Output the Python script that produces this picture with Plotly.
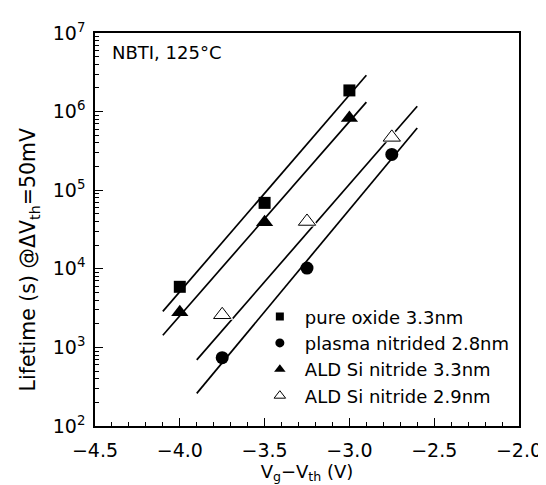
import plotly.graph_objects as go

# ---- data ----
names = ["pure oxide 3.3nm", "plasma nitrided 2.8nm",
         "ALD Si nitride 3.3nm", "ALD Si nitride 2.9nm"]

x_sq = [-4.0, -3.5, -3.0]
y_sq = [5.9e3, 6.9e4, 1.86e6]
x_ci = [-3.75, -3.25, -2.75]
y_ci = [7.4e2, 1.02e4, 2.85e5]
x_tf = [-4.0, -3.5, -3.0]
y_tf = [2.8e3, 3.9e4, 8.3e5]
x_to = [-3.75, -3.25, -2.75]
y_to = [2.6e3, 4.0e4, 4.7e5]

# fitted lines (end points)
fit_x_sq = [-4.10, -2.90]
fit_y_sq = [2.87e3, 2.9e6]
fit_x_tf = [-4.10, -2.90]
fit_y_tf = [1.43e3, 1.32e6]
fit_x_to = [-3.90, -2.60]
fit_y_to = [6.95e2, 1.17e6]
fit_x_ci = [-3.90, -2.60]
fit_y_ci = [2.6e2, 6.2e5]

y_tickvals = [1e2, 1e3, 1e4, 1e5, 1e6, 1e7]
y_ticktext = ["10<sup>2</sup>", "10<sup>3</sup>", "10<sup>4</sup>",
              "10<sup>5</sup>", "10<sup>6</sup>", "10<sup>7</sup>"]
x_tickvals = [-4.5, -4.0, -3.5, -3.0, -2.5, -2.0]

FONT = "DejaVu Sans"
fig = go.Figure()

for fx, fy in [(fit_x_sq, fit_y_sq), (fit_x_tf, fit_y_tf),
               (fit_x_to, fit_y_to), (fit_x_ci, fit_y_ci)]:
    fig.add_trace(go.Scatter(x=fx, y=fy, mode="lines",
                             line=dict(color="black", width=1.7),
                             showlegend=False, hoverinfo="skip"))

# white halo under open triangles
fig.add_trace(go.Scatter(x=x_to, y=y_to, mode="markers",
                         marker=dict(symbol="triangle-up", size=20, color="white",
                                     line=dict(width=0)),
                         showlegend=False, hoverinfo="skip"))

fig.add_trace(go.Scatter(x=x_sq, y=y_sq, mode="markers", showlegend=False,
                         marker=dict(symbol="square", size=12, color="black")))
fig.add_trace(go.Scatter(x=x_ci, y=y_ci, mode="markers", showlegend=False,
                         marker=dict(symbol="circle", size=13, color="black")))
fig.add_trace(go.Scatter(x=x_tf, y=y_tf, mode="markers", showlegend=False,
                         marker=dict(symbol="triangle-up", size=15, color="black")))
fig.add_trace(go.Scatter(x=x_to, y=y_to, mode="markers", showlegend=False,
                         marker=dict(symbol="triangle-up", size=15, color="white",
                                     line=dict(color="black", width=1))))

# legend entries (smaller symbols)
leg_styles = [dict(symbol="square", size=8, color="black"),
              dict(symbol="circle", size=9, color="black"),
              dict(symbol="triangle-up", size=10, color="black"),
              dict(symbol="triangle-up", size=10, color="white",
                   line=dict(color="black", width=1))]
for nm, st in zip(names, leg_styles):
    fig.add_trace(go.Scatter(x=[None], y=[None], mode="markers", name=nm,
                             marker=st, showlegend=True))

fig.add_annotation(text="NBTI, 125°C", xref="paper", yref="paper",
                   x=0.035, y=0.95, xanchor="left", yanchor="middle",
                   showarrow=False, font=dict(family=FONT, size=18, color="black"))

# y-axis title (placed as rotated text, slightly below centre as in the original)
fig.add_annotation(text="Lifetime (s) @ΔV<sub>th</sub>=50mV", xref="paper", yref="paper",
                   x=-0.19, y=0.425, xanchor="left", yanchor="middle", textangle=-90,
                   showarrow=False, font=dict(family=FONT, size=20.5, color="black"))

fig.update_layout(
    width=546, height=485,
    margin=dict(l=87, r=32, t=20, b=67),
    paper_bgcolor="white", plot_bgcolor="white",
    font=dict(family=FONT, color="black"),
    legend=dict(x=0.377, y=0.325, xanchor="left", yanchor="top",
                bgcolor="rgba(0,0,0,0)", font=dict(family=FONT, size=18),
                tracegroupgap=0, itemsizing="trace", itemwidth=40),
    xaxis=dict(range=[-4.5, -2.0], tickvals=x_tickvals,
               showline=True, linecolor="black", linewidth=1.5, mirror=True,
               ticks="inside", ticklen=8, tickwidth=1.2, tickcolor="black",
               minor=dict(dtick=0.1, ticks="inside", ticklen=4, tickwidth=1.2,
                          tickcolor="black", showgrid=False),
               tickfont=dict(family=FONT, size=19),
               tickformat=".1f", showgrid=False, zeroline=False,
               ticklabelstandoff=6,
               title=dict(text="V<sub>g</sub>−V<sub>th</sub> (V)",
                          font=dict(family=FONT, size=18), standoff=4)),
    yaxis=dict(type="log", range=[2, 7], tickvals=y_tickvals, ticktext=y_ticktext,
               showline=True, linecolor="black", linewidth=1.5, mirror=True,
               ticks="inside", ticklen=8, tickwidth=1.2, tickcolor="black",
               minor=dict(tickvals=[k * 10 ** d for d in range(2, 7) for k in range(2, 10)],
                          ticks="inside", ticklen=4, tickwidth=1.2,
                          tickcolor="black", showgrid=False),
               tickfont=dict(family=FONT, size=19),
               showgrid=False, zeroline=False, ticklabelstandoff=4),
)

fig.write_html("out.html")
